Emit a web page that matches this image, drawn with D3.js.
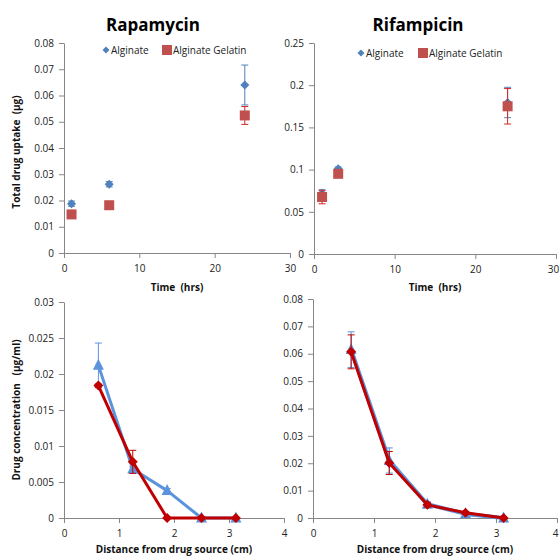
<!DOCTYPE html>
<html><head><meta charset="utf-8">
<script src="https://cdn.jsdelivr.net/npm/d3@7"></script>
<style>body{margin:0;background:#fff}svg{display:block}text{font-family:"Open Sans",sans-serif;white-space:pre}</style>
</head><body>
<svg id="c" width="560" height="556"></svg>
<script>
// ---- data ----
const timeRapa = [1, 6, 24];
const rapaAlg = [0.0188, 0.0262, 0.0640];
const rapaAlgErr = [0.0010, 0.0010, 0.0076];
const rapaGel = [0.0147, 0.0182, 0.0524];
const rapaGelErr = [0.0008, 0.0006, 0.0034];

const timeRifa = [1, 3, 24];
const rifaAlg = [0.0720, 0.1010, 0.1795];
const rifaAlgErr = [0.0040, 0.0020, 0.0180];
const rifaGel = [0.0675, 0.0950, 0.1750];
const rifaGelErr = [0.0080, 0.0020, 0.0210];

const dist = [0.625, 1.25, 1.875, 2.5, 3.125];
const concRapaAlg = [0.0212, 0.0068, 0.0038, 0, 0];
const concRapaAlgErr = [0.0031, 0.0003, 0.0003, 0, 0];
const concRapaGel = [0.0184, 0.0078, 0, 0, 0];
const concRapaGelErr = [0.0002, 0.0016, 0, 0, 0];
const concRifaAlg = [0.0615, 0.0210, 0.0050, 0.0015, 0];
const concRifaAlgErr = [0.0065, 0.0046, 0.0010, 0.0005, 0];
const concRifaGel = [0.0607, 0.0201, 0.0048, 0.0019, 0];
const concRifaGelErr = [0.0062, 0.0042, 0.0008, 0.0004, 0];

const rapaTicksY = [0, 0.01, 0.02, 0.03, 0.04, 0.05, 0.06, 0.07, 0.08];
const rifaTicksY = [0, 0.05, 0.1, 0.15, 0.2, 0.25];
const concRapaTicksY = [0, 0.005, 0.01, 0.015, 0.02, 0.025, 0.03];
const concRifaTicksY = [0, 0.01, 0.02, 0.03, 0.04, 0.05, 0.06, 0.07, 0.08];
const timeTicks = [0, 10, 20, 30];
const distTicks = [0, 1, 2, 3, 4];

const titles = ["Rapamycin", "Rifampicin"];
const legendLabels = ["Alginate", "Alginate Gelatin"];

const svg = d3.select("#c");
const axisCol = "#868686";

function panel(o) {
  const x = d3.scaleLinear().domain(o.xd).range(o.xr);
  const y = d3.scaleLinear().domain(o.yd).range(o.yr);
  const g = svg.append("g");
  const fmt = v => String(+v.toFixed(4));
  const ya = g.append("g").attr("transform", `translate(${o.xr[0]},0)`)
    .call(d3.axisLeft(y).tickValues(o.yt).tickSize(5).tickSizeOuter(0).tickPadding(5).tickFormat(fmt));
  const xa = g.append("g").attr("transform", `translate(0,${o.yr[0]})`)
    .call(d3.axisBottom(x).tickValues(o.xt).tickSize(5).tickSizeOuter(0).tickPadding(5).tickFormat(fmt));
  [ya, xa].forEach(a => {
    a.select(".domain").attr("stroke", axisCol);
    a.selectAll(".tick line").attr("stroke", axisCol);
    a.selectAll("text").attr("fill", "#222").style("font-size", "10px").style("font-family", '"Open Sans",sans-serif');
  });
  xa.selectAll("text").attr("dy", "0.9em");
  if (o.lastShift) xa.selectAll(".tick:last-of-type text").attr("dx", o.lastShift);
  return { g, x, y };
}

function errBars(p, xs, ys, es, col) {
  const cap = 3.5;
  xs.forEach((xv, i) => {
    if (!es[i]) return;
    const cx = p.x(xv), y1 = p.y(ys[i] + es[i]), y0 = p.y(ys[i] - es[i]);
    p.g.append("line").attr("x1", cx).attr("x2", cx).attr("y1", y1).attr("y2", y0).attr("stroke", col).attr("stroke-width", 1);
    [y1, y0].forEach(yy => p.g.append("line").attr("x1", cx - cap).attr("x2", cx + cap).attr("y1", yy).attr("y2", yy).attr("stroke", col).attr("stroke-width", 1));
  });
}

function diamond(p, xs, ys, r, col) {
  p.g.selectAll(null).data(xs).enter().append("path")
    .attr("d", `M0,${-r}L${r},0L0,${r}L${-r},0Z`)
    .attr("transform", (d, i) => `translate(${p.x(d)},${p.y(ys[i])})`)
    .attr("fill", col);
}
function square(p, xs, ys, s, col) {
  p.g.selectAll(null).data(xs).enter().append("rect")
    .attr("x", d => p.x(d) - s / 2).attr("y", (d, i) => p.y(ys[i]) - s / 2)
    .attr("width", s).attr("height", s).attr("fill", col);
}
function triangle(p, xs, ys, s, col) {
  p.g.selectAll(null).data(xs).enter().append("path")
    .attr("d", `M0,${-s * 0.6}L${s / 2},${s * 0.4}L${-s / 2},${s * 0.4}Z`)
    .attr("transform", (d, i) => `translate(${p.x(d)},${p.y(ys[i])})`)
    .attr("fill", col);
}
function line(p, xs, ys, col, w) {
  p.g.append("path").datum(xs.map((d, i) => [d, ys[i]]))
    .attr("d", d3.line().x(d => p.x(d[0])).y(d => p.y(d[1])))
    .attr("fill", "none").attr("stroke", col).attr("stroke-width", w).attr("stroke-linejoin", "round");
}

const blueM = "#4f81bd", redM = "#c0504d", redE = "#d92626";
const blueL = "#5b94dc", redL = "#c00000";

// Top-left: Rapamycin uptake
const p1 = panel({ xd: [0, 30], xr: [64, 290], yd: [0, 0.08], yr: [253, 43], yt: rapaTicksY, xt: timeTicks });
errBars(p1, timeRapa, rapaAlg, rapaAlgErr, blueM);
diamond(p1, timeRapa, rapaAlg, 4.5, blueM);
errBars(p1, timeRapa, rapaGel, rapaGelErr, redE);
square(p1, timeRapa, rapaGel, 10, redM);

// Top-right: Rifampicin uptake
const p2 = panel({ xd: [0, 30], xr: [314, 556], yd: [0, 0.25], yr: [254, 43], yt: rifaTicksY, xt: timeTicks, lastShift: -3 });
errBars(p2, timeRifa, rifaAlg, rifaAlgErr, blueM);
diamond(p2, timeRifa, rifaAlg, 4.5, blueM);
errBars(p2, timeRifa, rifaGel, rifaGelErr, redE);
square(p2, timeRifa, rifaGel, 10, redM);

// Bottom-left: Rapamycin concentration
const p3 = panel({ xd: [0, 4], xr: [64, 284], yd: [0, 0.03], yr: [518, 302], yt: concRapaTicksY, xt: distTicks });
line(p3, dist, concRapaAlg, blueL, 3);
errBars(p3, dist, concRapaAlg, concRapaAlgErr, blueL);
triangle(p3, dist, concRapaAlg, 11, blueL);
line(p3, dist, concRapaGel, redL, 3);
errBars(p3, dist, concRapaGel, concRapaGelErr, redL);
diamond(p3, dist, concRapaGel, 5, redL);

// Bottom-right: Rifampicin concentration
const p4 = panel({ xd: [0, 4], xr: [313, 557], yd: [0, 0.08], yr: [518, 299], yt: concRifaTicksY, xt: distTicks, lastShift: -2 });
line(p4, dist, concRifaAlg, blueL, 4);
errBars(p4, dist, concRifaAlg, concRifaAlgErr, blueL);
triangle(p4, dist, concRifaAlg, 11, blueL);
line(p4, dist, concRifaGel, redL, 3);
errBars(p4, dist, concRifaGel, concRifaGelErr, redL);
diamond(p4, dist, concRifaGel, 5, redL);

// Titles
svg.append("text").attr("x", 153).attr("y", 31).attr("text-anchor", "middle")
  .style("font-size", "17px").style("font-weight", "bold").text(titles[0]);
svg.append("text").attr("x", 418).attr("y", 31).attr("text-anchor", "middle")
  .style("font-size", "17px").style("font-weight", "bold").text(titles[1]);

// Legends
function legend(x0, xs, y) {
  const g = svg.append("g");
  g.append("path").attr("d", "M0,-3.5L3.5,0L0,3.5L-3.5,0Z").attr("transform", `translate(${x0},${y})`).attr("fill", blueM);
  g.append("text").attr("x", x0 + 5).attr("y", y).attr("dy", "0.35em").style("font-size", "10px").attr("fill", "#222").text(legendLabels[0]);
  g.append("rect").attr("x", xs - 5).attr("y", y - 5).attr("width", 10).attr("height", 10).attr("fill", redM);
  g.append("text").attr("x", xs + 6).attr("y", y).attr("dy", "0.35em").style("font-size", "10px").attr("fill", "#222").text(legendLabels[1]);
}
legend(106, 167, 50);
legend(361, 423, 53);

// Axis titles
function t(x, y, s, rot) {
  const e = svg.append("text").attr("text-anchor", "middle").attr("dy", "0.35em")
    .style("font-size", "10px").style("font-weight", "bold").attr("fill", "#111").text(s);
  if (rot) e.attr("transform", `translate(${x},${y}) rotate(-90)`);
  else e.attr("x", x).attr("y", y);
}
t(177, 287, "Time  (hrs)");
t(435, 287, "Time  (hrs)");
t(174, 549, "Distance from drug source (cm)");
t(435, 549, "Distance from drug source (cm)");
t(16, 152, "Total drug uptake  (µg)", true);
t(16, 410, "Drug concentration   (µg/ml)", true);
</script>
</body></html>
